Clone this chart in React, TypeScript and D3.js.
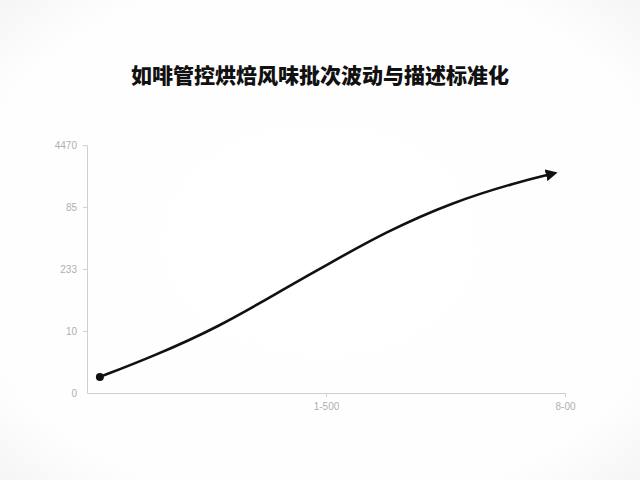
import React, { useEffect, useRef } from 'react';
import * as d3 from 'd3';

const title = '如啡管控烘焙风味批次波动与描述标准化';

// x tick positions and their labels
const xTicks = [1, 2];
const xTickLabels = ['1-500', '8-00'];

// y tick positions and their labels
const yTicks = [0, 1, 2, 3, 4];
const yTickLabels = ['0', '10', '233', '85', '4470'];

// the curve
const seriesX = [0.054, 0.27, 0.55, 0.83, 1.0, 1.25, 1.53, 1.8, 1.94];
const seriesY = [0.26, 0.58, 1.06, 1.69, 2.06, 2.6, 3.08, 3.4, 3.53];

const W = 640;
const H = 480;

const App: React.FC = () => {
  const svgRef = useRef<SVGSVGElement>(null);

  useEffect(() => {
    if (!svgRef.current) return;
    const svg = d3.select(svgRef.current);
    svg.selectAll('*').remove();

    const defs = svg.append('defs');
    const bg = defs.append('radialGradient').attr('id', 'bg').attr('cx', '50%').attr('cy', '50%').attr('r', '75%');
    bg.append('stop').attr('offset', '0%').attr('stop-color', '#ffffff');
    bg.append('stop').attr('offset', '75%').attr('stop-color', '#fefefe');
    bg.append('stop').attr('offset', '100%').attr('stop-color', '#f3f3f3');

    defs.append('marker')
      .attr('id', 'arrow')
      .attr('viewBox', '0 0 10 10')
      .attr('refX', 4)
      .attr('refY', 5)
      .attr('markerWidth', 4.6)
      .attr('markerHeight', 4.6)
      .attr('orient', 'auto')
      .attr('markerUnits', 'strokeWidth')
      .append('path')
      .attr('d', 'M0,0 L10,5 L0,10 Z')
      .attr('fill', '#111');

    svg.append('rect').attr('width', W).attr('height', H).attr('fill', 'url(#bg)');

    const x = d3.scaleLinear().domain([0, 2]).range([87, 565]);
    const y = d3.scaleLinear().domain([0, 4]).range([393, 145]);

    // title
    svg.append('text')
      .attr('x', 320)
      .attr('y', 83)
      .attr('text-anchor', 'middle')
      .style('font-family', "'Noto Sans CJK SC', sans-serif")
      .style('font-weight', 900)
      .style('font-size', '21px')
      .attr('fill', '#111')
      .text(title);

    const axisColor = '#d0d0d0';
    const labelColor = '#b0b0b0';

    // x axis
    const xAxis = svg.append('g')
      .attr('transform', `translate(0,${y(0)})`)
      .call(
        d3.axisBottom(x)
          .tickValues(xTicks)
          .tickSize(4)
          .tickSizeOuter(0)
          .tickPadding(6)
          .tickFormat((_, i) => xTickLabels[i])
      );

    // y axis
    const yAxis = svg.append('g')
      .attr('transform', `translate(${x(0)},0)`)
      .call(
        d3.axisLeft(y)
          .tickValues(yTicks)
          .tickSize(4)
          .tickSizeOuter(0)
          .tickPadding(6)
          .tickFormat((_, i) => yTickLabels[i])
      );

    [xAxis, yAxis].forEach(a => {
      a.select('.domain').attr('stroke', axisColor).attr('stroke-width', 1);
      a.selectAll('.tick line').attr('stroke', axisColor);
      a.selectAll('.tick text')
        .attr('fill', labelColor)
        .style('font-family', "'Liberation Sans', sans-serif")
        .style('font-size', '10px');
    });
    yAxis.selectAll('.tick').filter((d: any) => d === 0).select('line').remove();

    // curve
    const pts: [number, number][] = seriesX.map((v, i) => [v, seriesY[i]]);
    const line = d3.line<[number, number]>()
      .x(d => x(d[0]))
      .y(d => y(d[1]))
      .curve(d3.curveBasis);

    svg.append('path')
      .datum(pts)
      .attr('d', line)
      .attr('fill', 'none')
      .attr('stroke', '#111')
      .attr('stroke-width', 2.6)
      .attr('stroke-linecap', 'round')
      .attr('marker-end', 'url(#arrow)');

    svg.append('circle')
      .attr('cx', x(pts[0][0]))
      .attr('cy', y(pts[0][1]))
      .attr('r', 4)
      .attr('fill', '#111');
  }, []);

  return (
    <svg
      ref={svgRef}
      width={W}
      height={H}
      style={{ position: 'absolute', left: 0, top: 0, display: 'block' }}
    />
  );
};

export default App;
